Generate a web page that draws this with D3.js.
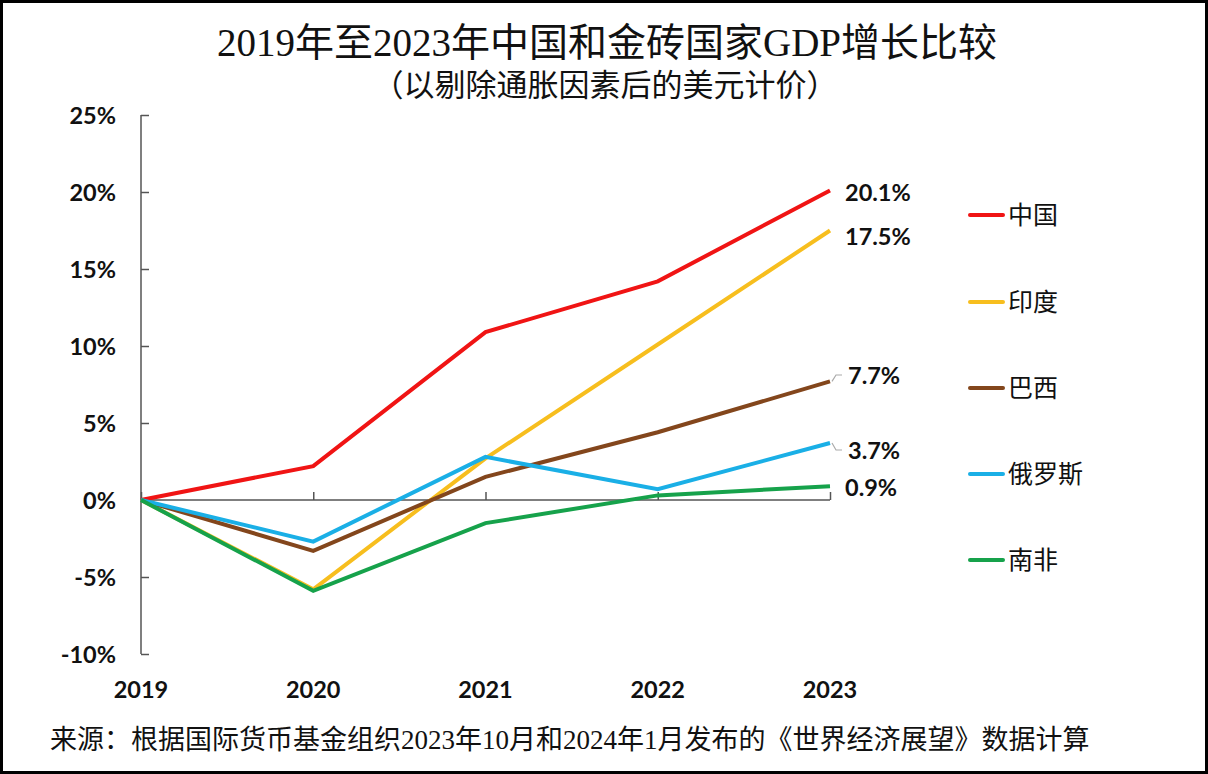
<!DOCTYPE html>
<html>
<head>
<meta charset="utf-8">
<script src="https://d3js.org/d3.v7.min.js"></script>
<style>
  body { margin: 0; background: #fff; }
  .tick-lbl { font-family: Lato, "Open Sans", sans-serif; font-weight: 700; font-size: 23.5px; fill: #111; }
  .cjk { font-family: "Liberation Serif", "Noto Sans CJK SC", serif; fill: #111; }
</style>
</head>
<body>
<script>
const years = [2019, 2020, 2021, 2022, 2023]
const yTicks = [-10, -5, 0, 5, 10, 15, 20, 25]
const countries = ['中国', '印度', '巴西', '俄罗斯', '南非']
const colors = ['#F01414', '#F7BE1E', '#83461C', '#1AAFE6', '#16A24B']
const china = [0, 2.2, 10.9, 14.2, 20.1]
const india = [0, -5.8, 2.7, 10.1, 17.5]
const brazil = [0, -3.3, 1.5, 4.4, 7.7]
const russia = [0, -2.7, 2.8, 0.7, 3.7]
const safrica = [0, -5.9, -1.5, 0.3, 0.9]
const series = [china, india, brazil, russia, safrica]

const W = 1208, H = 774
const svg = d3.select('body').append('svg').attr('width', W).attr('height', H)

svg.append('rect').attr('x', 1.5).attr('y', 1.5).attr('width', W - 3).attr('height', H - 3)
  .attr('fill', '#fff').attr('stroke', '#000').attr('stroke-width', 3)

const x = d3.scalePoint().domain(years).range([141, 830])
const y = d3.scaleLinear().domain([-10, 25]).range([654, 115])

// title
svg.append('text').attr('class', 'cjk').attr('x', 607).attr('y', 56).attr('text-anchor', 'middle')
  .style('font-size', '39px').text('2019年至2023年中国和金砖国家GDP增长比较')
svg.append('text').attr('class', 'cjk').attr('x', 605).attr('y', 96).attr('text-anchor', 'middle')
  .style('font-size', '31px').text('（以剔除通胀因素后的美元计价）')

// y axis
const yAxis = svg.append('g').attr('transform', 'translate(141,0)')
  .call(d3.axisRight(y).tickValues(yTicks).tickSize(8).tickFormat(''))
yAxis.selectAll('path, line').attr('stroke', '#555').attr('stroke-width', 1.5)
yAxis.select('.domain').attr('d', 'M0,' + y(25) + 'V' + y(-10))
svg.selectAll('.ylbl').data(yTicks).enter().append('text')
  .attr('class', 'tick-lbl').attr('x', 116).attr('y', d => y(d) + 9)
  .attr('text-anchor', 'end').text(d => d + '%')

// x axis along zero line, ticks upward
const xAxis = svg.append('g').attr('transform', 'translate(0,' + y(0) + ')')
  .call(d3.axisTop(x).tickSize(8).tickSizeOuter(0).tickFormat(''))
xAxis.selectAll('path, line').attr('stroke', '#555').attr('stroke-width', 1.5)
xAxis.select('.domain').attr('d', 'M' + x(2019) + ',0H' + x(2023))
svg.selectAll('.xlbl').data(years).enter().append('text')
  .attr('class', 'tick-lbl').attr('x', d => x(d)).attr('y', 698)
  .attr('text-anchor', 'middle').text(d => d)

// lines
const line = d3.line().x((d, i) => x(years[i])).y(d => y(d))
svg.append('g').selectAll('path').data(series).enter().append('path')
  .attr('d', line).attr('fill', 'none')
  .attr('stroke', (d, i) => colors[i]).attr('stroke-width', 4)
  .attr('stroke-linejoin', 'miter')

// end labels
const labelY = [193, 237, 376, 451, 488]
series.forEach((s, i) => {
  const v = s[s.length - 1]
  if (i === 2 || i === 3) {
    const ex = x(2023) + 2, ey = y(v)
    svg.append('path').attr('fill', 'none').attr('stroke', '#aaa').attr('stroke-width', 1.2)
      .attr('d', 'M' + ex + ',' + ey + 'L' + (ex + 4) + ',' + (labelY[i] - 1) + 'H' + (ex + 10))
  }
  svg.append('text').attr('class', 'tick-lbl').attr('x', i === 2 || i === 3 ? 848 : 845)
    .attr('y', labelY[i] + 8).text(v.toFixed(1) + '%')
})

// legend
const legY = [215, 302, 388, 474, 560]
const leg = svg.append('g').selectAll('g').data(countries).enter().append('g')
  .attr('transform', (d, i) => 'translate(970,' + legY[i] + ')')
leg.append('line').attr('x1', 0).attr('x2', 33).attr('stroke', (d, i) => colors[i])
  .attr('stroke-width', 4).attr('stroke-linecap', 'round')
leg.append('text').attr('class', 'cjk').attr('x', 38).attr('y', 9).style('font-size', '25px').text(d => d)

// source
svg.append('text').attr('class', 'cjk').attr('x', 50).attr('y', 749).style('font-size', '27px')
  .text('来源：根据国际货币基金组织2023年10月和2024年1月发布的《世界经济展望》数据计算')
</script>
</body>
</html>
